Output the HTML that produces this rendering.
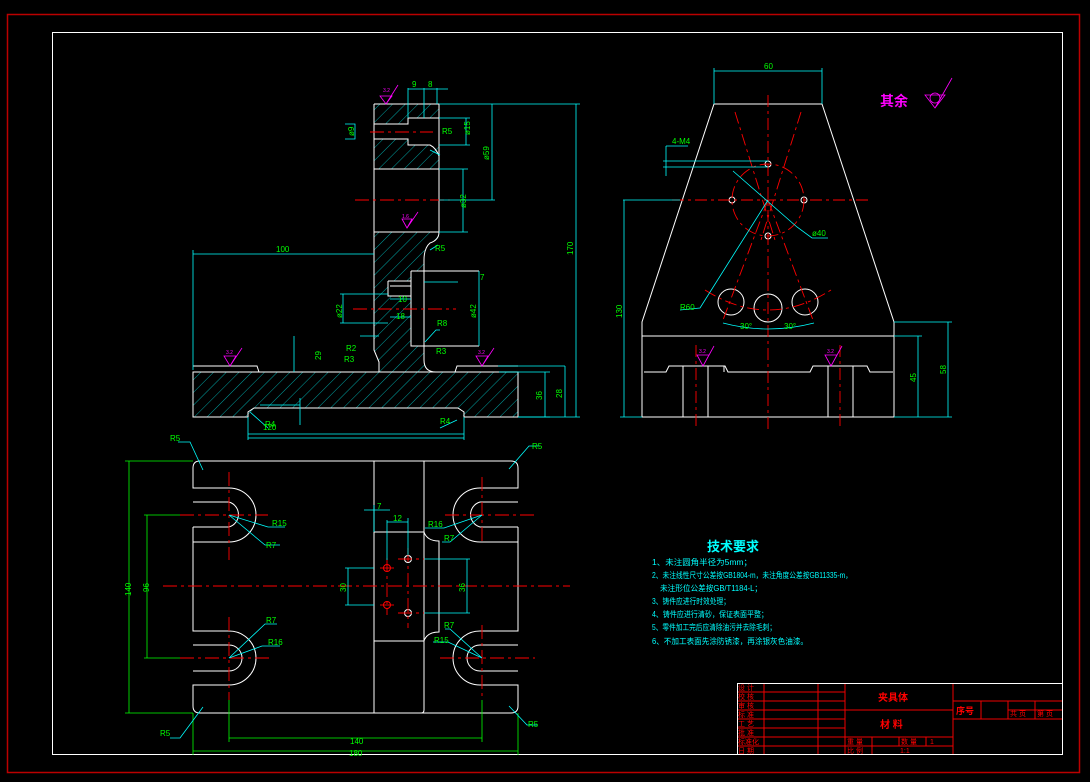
<!DOCTYPE html>
<html><head><meta charset="utf-8"><style>
html,body{margin:0;padding:0;background:#000;}
svg{display:block;}
text{font-family:"Liberation Sans","Noto Sans CJK SC",sans-serif;}
</style></head><body>
<svg width="1090" height="782" viewBox="0 0 1090 782" xmlns="http://www.w3.org/2000/svg">
<defs>
<pattern id="h" width="9" height="9" patternUnits="userSpaceOnUse" patternTransform="rotate(45)">
<line x1="0" y1="0" x2="0" y2="9" stroke="#0cc" stroke-width="0.8"/>
</pattern>
</defs>
<rect width="1090" height="782" fill="#000"/>
<rect x="7.5" y="14.5" width="1072" height="758" fill="none" stroke="#b00" stroke-width="1.5"/>
<rect x="52.5" y="32.5" width="1010" height="722" fill="none" stroke="#fff" stroke-width="1"/>

<!-- ===== Section view ===== -->
<g>
<rect x="374" y="104" width="65" height="65" fill="url(#h)"/>
<path d="M374,232 L439,232 L439,240 Q424,240 424,255 L424,360 Q424,372 436,372 L518,372 L518,417 L464,417 L458,408 L254,408 L248,417 L193,417 L193,372 L370,372 Q379,372 379,362 L374,350 Z" fill="url(#h)"/>
<rect x="374" y="124" width="34" height="15" fill="#000"/>
<rect x="408" y="118" width="31" height="27" fill="#000"/>
<rect x="411" y="271" width="13" height="75" fill="#000"/>
<rect x="388" y="281" width="23" height="15" fill="#000"/>
<g stroke="#fff" stroke-width="1" fill="none">
<path d="M374,104 L439,104 L439,232 Q439,240 430,243 Q424,248 424,260 L424,360 Q424,372 436,372"/>
<path d="M374,104 L374,350 L379,362 L379,372"/>
<line x1="374" y1="169" x2="439" y2="169"/>
<line x1="374" y1="232" x2="439" y2="232"/>
<path d="M374,124 L408,124 L408,118 L439,118 M374,139 L408,139 L408,145 L430,145 Q436,148 439,156"/>
<path d="M411,271 L479,271 M411,271 L411,346 L479,346"/>
<path d="M388,281 L411,281 M388,281 L388,296 L411,296 M390,286 L411,286"/>
<path d="M193,366 L257,366 L259,372 M455,372 L457,366 L518,366"/>
<path d="M193,372 L518,372 L518,417 L464,417 L464,412 L458,408 L254,408 L248,412 L248,417 L193,417 Z"/>
<path d="M436,372 L455,372"/>
</g>
<g stroke="#f00" stroke-width="1" stroke-dasharray="14,4,3,4">
<line x1="370" y1="132" x2="433" y2="132"/>
<line x1="355" y1="200" x2="450" y2="200"/>
<line x1="353" y1="309" x2="456" y2="309"/>
</g>
<g stroke="#0ff" stroke-width="0.8" fill="none">
<line x1="193" y1="250" x2="193" y2="370"/><line x1="193" y1="254" x2="374" y2="254"/>
<line x1="439" y1="104" x2="580" y2="104"/><line x1="518" y1="417" x2="580" y2="417"/><line x1="576" y1="104" x2="576" y2="417"/>
<line x1="248" y1="417" x2="248" y2="440"/><line x1="464" y1="417" x2="464" y2="440"/><line x1="248" y1="438" x2="464" y2="438"/>
<line x1="408" y1="88" x2="408" y2="118"/><line x1="424" y1="88" x2="424" y2="118"/><line x1="437" y1="88" x2="437" y2="104"/><line x1="408" y1="89" x2="448" y2="89"/>
<line x1="439" y1="118" x2="470" y2="118"/><line x1="439" y1="145" x2="470" y2="145"/><line x1="466" y1="118" x2="466" y2="145"/>
<line x1="439" y1="200" x2="495" y2="200"/><line x1="492" y1="104" x2="492" y2="200"/>
<line x1="439" y1="169" x2="468" y2="169"/><line x1="439" y1="232" x2="468" y2="232"/><line x1="463" y1="169" x2="463" y2="232"/>
<line x1="479" y1="271" x2="479" y2="346"/><line x1="424" y1="282" x2="458" y2="282"/>
<line x1="340" y1="294" x2="388" y2="294"/><line x1="340" y1="323" x2="388" y2="323"/><line x1="343" y1="294" x2="343" y2="323"/>
<line x1="390" y1="299" x2="411" y2="299"/><line x1="390" y1="317" x2="411" y2="317"/>
<line x1="360" y1="336" x2="379" y2="336"/><line x1="294" y1="336" x2="294" y2="372"/>
<line x1="499" y1="372" x2="550" y2="372"/><line x1="545" y1="372" x2="545" y2="417"/><line x1="518" y1="417" x2="550" y2="417"/>
<line x1="498" y1="366" x2="565" y2="366"/><line x1="565" y1="366" x2="565" y2="417"/>
<line x1="260" y1="405" x2="300" y2="405"/><line x1="300" y1="398" x2="300" y2="425"/>
<path d="M268,428 L250,412 M457,420 L440,428 M438,245 L430,250 M430,150 L440,155 M425,342 L436,330 L440,330"/>
<path d="M345,124 L355,124 L355,139 L345,139"/>
</g>
<g fill="#0f0" font-size="8">
<text x="276" y="252">100</text>
<text x="263" y="430">120</text>
<text x="440" y="424">R4</text>
<text x="265" y="427">R4</text>
<text x="412" y="87">9</text><text x="428" y="87">8</text>
<text x="480" y="280">7</text>
<text x="398" y="302">10</text><text x="396" y="319">18</text>
<text x="437" y="326">R8</text><text x="436" y="354">R3</text>
<text x="346" y="351">R2</text><text x="344" y="362">R3</text>
<text x="442" y="134">R5</text><text x="435" y="251">R5</text>
<text transform="translate(573,255) rotate(-90)">170</text>
<text transform="translate(470,135) rotate(-90)">ø15</text>
<text transform="translate(489,160) rotate(-90)">ø59</text>
<text transform="translate(466,208) rotate(-90)">ø32</text>
<text transform="translate(476,318) rotate(-90)">ø42</text>
<text transform="translate(354,136) rotate(-90)">ø9</text>
<text transform="translate(342,318) rotate(-90)">ø22</text>
<text transform="translate(321,360) rotate(-90)">29</text>
<text transform="translate(542,400) rotate(-90)">36</text>
<text transform="translate(562,398) rotate(-90)">28</text>
</g>
<g stroke="#f0f" fill="none" stroke-width="0.8">
<path d="M380,96 L386,104 L392,96 Z M386,104 L398,85"/>
<path d="M224,356 L230,366 L236,356 Z M230,366 L242,348"/>
<path d="M476,356 L482,366 L488,356 Z M482,366 L494,348"/>
<path d="M402,219 L407,228 L412,219 Z M407,228 L418,212"/>
</g>
<g fill="#f0f" font-size="5"><text x="383" y="92">3.2</text><text x="226" y="354">3.2</text><text x="478" y="354">3.2</text><text x="402" y="218">1.6</text></g>
</g>

<!-- ===== Right view ===== -->
<g>
<g stroke="#fff" stroke-width="1" fill="none">
<path d="M714,104 L822,104 L894,322 L894,417 L642,417 L642,322 Z"/>
<line x1="642" y1="336" x2="894" y2="336"/>
<path d="M644,372 L666,372 L669,366 L724,366 L724,372 M724,366 L725,366 L728,372 L810,372 L813,366 L867,366 L870,372 L893,372"/>
<line x1="683" y1="366" x2="683" y2="417"/><line x1="708" y1="366" x2="708" y2="417"/>
<line x1="828" y1="366" x2="828" y2="417"/><line x1="853" y1="366" x2="853" y2="417"/>
<circle cx="731" cy="302" r="13"/><circle cx="768" cy="308" r="14"/><circle cx="805" cy="302" r="13"/>
<circle cx="768" cy="164" r="3"/><circle cx="732" cy="200" r="3"/><circle cx="804" cy="200" r="3"/><circle cx="768" cy="236" r="3"/>
</g>
<g stroke="#f00" stroke-width="0.9" fill="none" stroke-dasharray="12,4,3,4">
<line x1="768" y1="95" x2="768" y2="430"/>
<line x1="672" y1="200" x2="868" y2="200"/>
<circle cx="768" cy="200" r="36"/>
<line x1="735" y1="112" x2="775" y2="240"/><line x1="801" y1="112" x2="761" y2="240"/>
<line x1="768" y1="200" x2="723" y2="320"/><line x1="768" y1="200" x2="813" y2="320"/>
<path d="M705,290 Q768,330 831,290"/>
<line x1="696" y1="345" x2="696" y2="430"/><line x1="840" y1="345" x2="840" y2="430"/>
</g>
<g stroke="#0ff" stroke-width="0.8" fill="none">
<line x1="714" y1="68" x2="714" y2="104"/><line x1="822" y1="68" x2="822" y2="104"/><line x1="714" y1="71" x2="822" y2="71"/>
<path d="M666,146 L688,146 M666,146 L666,176 M663,161 L768,161 M663,167 L768,167"/>
<line x1="623" y1="200" x2="680" y2="200"/><line x1="624" y1="200" x2="624" y2="417"/><line x1="620" y1="417" x2="642" y2="417"/>
<line x1="894" y1="322" x2="952" y2="322"/><line x1="894" y1="336" x2="922" y2="336"/>
<line x1="918" y1="336" x2="918" y2="417"/><line x1="948" y1="322" x2="948" y2="417"/><line x1="894" y1="417" x2="952" y2="417"/>
<path d="M733,171 L797,227 L812,238 L828,238"/>
<path d="M768,200 L700,308 L680,310"/>
<path d="M723,323 Q768,335 814,323"/>
</g>
<g fill="#0f0" font-size="8">
<text x="764" y="69">60</text>
<text x="672" y="144">4-M4</text>
<text x="812" y="236">ø40</text>
<text x="680" y="310">R60</text>
<text x="740" y="329">30°</text><text x="784" y="329">30°</text>
<text transform="translate(622,318) rotate(-90)">130</text>
<text transform="translate(916,382) rotate(-90)">45</text>
<text transform="translate(946,374) rotate(-90)">58</text>
</g>
<g stroke="#f0f" fill="none" stroke-width="0.8">
<path d="M697,355 L703,366 L709,355 Z M703,366 L714,346"/>
<path d="M825,355 L831,366 L837,355 Z M831,366 L842,346"/>
<path d="M925,95 L935,108 L945,95 Z M935,108 L952,78"/>
<circle cx="935" cy="98" r="5"/>
</g>
<g fill="#f0f" font-size="5"><text x="699" y="353">3.2</text><text x="827" y="353">3.2</text></g>
<text x="880" y="106" fill="#f0f" font-size="14" font-weight="bold">其余</text>
</g>

<!-- ===== Plan view ===== -->
<g>
<g stroke="#fff" stroke-width="1" fill="none">
<path d="M200,461 L511,461 Q518,461 518,468 L518,488 L480,488 A27,27 0 0 0 480,542 L518,542 L518,527 M518,502 L480,502 A13,13 0 0 0 480,527 L518,527"/>
<path d="M518,542 L518,572"/>
<path d="M193,468 Q193,461 200,461 M193,468 L193,488 L229,488 A27,27 0 0 1 229,542 L193,542 L193,527 M193,502 L229,502 A13,13 0 0 1 229,527 L193,527"/>
<path d="M193,542 L193,631 L229,631 A27,27 0 0 1 229,685 L193,685 L193,706 Q193,713 200,713 L511,713 Q518,713 518,706 L518,685 L480,685 A27,27 0 0 1 480,631 L518,631 L518,542"/>
<path d="M193,645 L229,645 A13,13 0 0 1 229,671 L193,671 M518,645 L480,645 A13,13 0 0 0 480,671 L518,671"/>
<line x1="374" y1="461" x2="374" y2="713"/>
<path d="M424,461 L424,710 Q424,713 421,713 M424,532 Q427,541 439,541 L439,632 Q427,632 424,641"/>
<line x1="374" y1="532" x2="424" y2="532"/><line x1="374" y1="641" x2="424" y2="641"/>
<circle cx="387" cy="568" r="3.5" stroke="#f00"/><circle cx="387" cy="605" r="3.5" stroke="#f00"/>
<circle cx="408" cy="559" r="3.5"/><circle cx="408" cy="613" r="3.5"/>
</g>
<g stroke="#f00" stroke-width="0.9" stroke-dasharray="14,4,3,4">
<line x1="163" y1="586" x2="570" y2="586"/>
<line x1="180" y1="515" x2="268" y2="515"/><line x1="180" y1="658" x2="270" y2="658"/>
<line x1="445" y1="515" x2="535" y2="515"/><line x1="440" y1="658" x2="535" y2="658"/>
<line x1="229" y1="472" x2="229" y2="560"/><line x1="229" y1="617" x2="229" y2="700"/>
<line x1="482" y1="477" x2="482" y2="545"/><line x1="482" y1="625" x2="482" y2="700"/>
<line x1="380" y1="568" x2="398" y2="568"/><line x1="380" y1="605" x2="398" y2="605"/>
<line x1="387" y1="558" x2="387" y2="615"/><line x1="408" y1="548" x2="408" y2="628"/>
<line x1="398" y1="559" x2="425" y2="559"/><line x1="398" y1="613" x2="425" y2="613"/>
</g>
<g stroke="#0f0" stroke-width="0.8">
<line x1="125" y1="461" x2="193" y2="461"/><line x1="125" y1="713" x2="193" y2="713"/><line x1="129" y1="461" x2="129" y2="713"/>
<line x1="144" y1="515" x2="180" y2="515"/><line x1="144" y1="658" x2="180" y2="658"/><line x1="147" y1="515" x2="147" y2="658"/>
<line x1="229" y1="700" x2="229" y2="742"/><line x1="482" y1="700" x2="482" y2="742"/><line x1="229" y1="738" x2="482" y2="738"/>
<line x1="193" y1="713" x2="193" y2="755"/><line x1="518" y1="713" x2="518" y2="755"/><line x1="193" y1="751" x2="518" y2="751"/>
</g>
<g stroke="#0ff" stroke-width="0.8" fill="none">
<path d="M178,442 L190,442 L203,470 M540,446 L529,446 L509,469 M170,738 L180,738 L203,707 M537,725 L527,725 L509,706"/>
<path d="M229,515 L268,527 L285,527 M229,515 L265,545 L280,545 M229,658 L265,624 L277,624 M229,658 L262,646 L280,646"/>
<path d="M482,515 L444,528 L425,528 M482,515 L450,542 L442,542 M482,658 L450,629 L445,629 M482,658 L448,642 L433,642"/>
<path d="M364,510 L390,510 M374,505 L374,532 M387,520 L387,560 M387,522 L408,522 M408,518 L408,555"/>
<path d="M345,568 L374,568 M345,605 L374,605 M348,568 L348,605 M424,559 L470,559 M424,613 L470,613 M467,559 L467,613"/>
<line x1="248" y1="434" x2="464" y2="434"/>
</g>
<g fill="#0f0" font-size="8">
<text x="170" y="441">R5</text><text x="532" y="449">R5</text>
<text x="160" y="736">R5</text><text x="528" y="727">R5</text>
<text x="272" y="526">R15</text><text x="266" y="548">R7</text>
<text x="266" y="623">R7</text><text x="268" y="645">R16</text>
<text x="428" y="527">R16</text><text x="444" y="541">R7</text>
<text x="444" y="628">R7</text><text x="434" y="643">R15</text>
<text x="377" y="509">7</text><text x="393" y="521">12</text>
<text x="350" y="744">140</text><text x="349" y="756">180</text>
<text transform="translate(131,596) rotate(-90)">140</text>
<text transform="translate(149,592) rotate(-90)">96</text>
<text transform="translate(346,592) rotate(-90)">30</text>
<text transform="translate(465,592) rotate(-90)">36</text>
</g>
</g>

<!-- ===== Tech requirements ===== -->
<g fill="#0ff">
<text x="707" y="551" font-size="13" font-weight="bold">技术要求</text>
<g font-size="8">
<text x="652" y="565" textLength="100" lengthAdjust="spacingAndGlyphs">1、未注圆角半径为5mm；</text>
<text x="652" y="578" textLength="200" lengthAdjust="spacingAndGlyphs">2、未注线性尺寸公差按GB1804-m，未注角度公差按GB11335-m，</text>
<text x="660" y="591" textLength="102" lengthAdjust="spacingAndGlyphs">未注形位公差按GB/T1184-L；</text>
<text x="652" y="604" textLength="78" lengthAdjust="spacingAndGlyphs">3、铸件应进行时效处理；</text>
<text x="652" y="617" textLength="116" lengthAdjust="spacingAndGlyphs">4、铸件应进行清砂，保证表面平整；</text>
<text x="652" y="630" textLength="124" lengthAdjust="spacingAndGlyphs">5、零件加工完后应清除油污并去除毛刺；</text>
<text x="652" y="644" textLength="156" lengthAdjust="spacingAndGlyphs">6、不加工表面先涂防锈漆，再涂银灰色油漆。</text>
</g>
</g>

<!-- ===== Title block ===== -->
<g stroke="#e00" stroke-width="1" fill="none">
<line x1="737" y1="692" x2="845" y2="692"/><line x1="737" y1="701" x2="845" y2="701"/>
<line x1="737" y1="710" x2="845" y2="710"/><line x1="737" y1="719" x2="845" y2="719"/>
<line x1="737" y1="728" x2="845" y2="728"/><line x1="737" y1="737" x2="953" y2="737"/>
<line x1="737" y1="746" x2="953" y2="746"/>
<line x1="764" y1="683" x2="764" y2="755"/><line x1="818" y1="683" x2="818" y2="755"/>
<line x1="845" y1="683" x2="845" y2="755"/><line x1="953" y1="683" x2="953" y2="755"/>
<line x1="845" y1="710" x2="953" y2="710"/>
<line x1="872" y1="737" x2="872" y2="755"/><line x1="899" y1="737" x2="899" y2="746"/><line x1="926" y1="737" x2="926" y2="746"/>
<line x1="953" y1="701" x2="1062" y2="701"/><line x1="953" y1="719" x2="1062" y2="719"/>
<line x1="1008" y1="710" x2="1062" y2="710"/>
<line x1="981" y1="701" x2="981" y2="719"/><line x1="1008" y1="701" x2="1008" y2="719"/><line x1="1035" y1="701" x2="1035" y2="719"/>
</g>
<g stroke="#fff" fill="none"><rect x="737.5" y="683.5" width="325" height="71"/></g>
<g fill="#f00" font-size="7">
<text x="738" y="690">设 计</text><text x="738" y="699">校 核</text><text x="738" y="708">审 核</text>
<text x="738" y="717">标 准</text><text x="738" y="726">工 艺</text><text x="738" y="735">批 准</text>
<text x="738" y="744">标准化</text><text x="738" y="753">日 期</text>
<text x="847" y="744">重 量</text><text x="901" y="744">数 量</text><text x="930" y="744">1</text>
<text x="847" y="753">比 例</text><text x="900" y="753">1:1</text>
<text x="1010" y="716">共 页</text><text x="1037" y="716">第 页</text>
</g>
<text x="878" y="701" fill="#f00" font-size="10" font-weight="bold">夹具体</text>
<text x="880" y="728" fill="#f00" font-size="10" font-weight="bold">材 料</text>
<text x="956" y="714" fill="#f00" font-size="9" font-weight="bold">序号</text>
</svg>
</body></html>
